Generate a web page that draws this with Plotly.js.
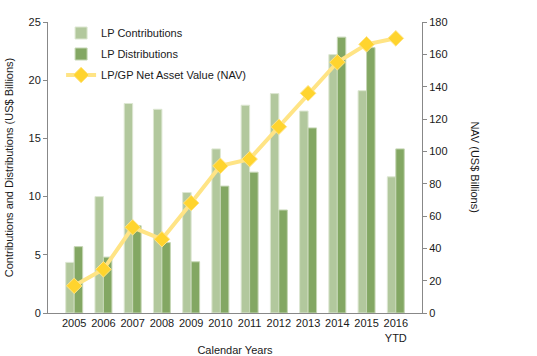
<!DOCTYPE html>
<html>
<head>
<meta charset="utf-8">
<script src="https://cdn.plot.ly/plotly-3.0.1.min.js"></script>
<style>html,body{margin:0;padding:0;background:#fff;}#chart{width:537px;height:356px;}</style>
</head>
<body>
<div id="chart"></div>
<script>
var years = ["2005","2006","2007","2008","2009","2010","2011","2012","2013","2014","2015","2016<br>YTD"];
var contributions = [4.35, 10.0, 18.0, 17.5, 10.35, 14.1, 17.85, 18.85, 17.35, 22.2, 19.1, 11.7];
var distributions = [5.7, 4.8, 7.5, 6.05, 4.4, 10.9, 12.1, 8.85, 15.9, 23.7, 22.8, 14.1];
var nav = [16.8, 27.0, 53.0, 45.6, 68.0, 91.0, 95.2, 115.2, 135.9, 155.1, 166.2, 169.9];

var font = {family: "Liberation Sans, Arial, sans-serif", size: 11, color: "#1a1a1a"};

var traces = [
  {type: "bar", name: "LP Contributions", x: years, y: contributions, legendgroup: "a",
   marker: {color: "#b2c89d", line: {color: "#dde7d2", width: 1}}, yaxis: "y"},
  {type: "bar", name: "LP Distributions", x: years, y: distributions, legendgroup: "b",
   marker: {color: "#83a763", line: {color: "#c5d6b4", width: 1}}, yaxis: "y"},
  {type: "scatter", mode: "lines+markers", name: "LP/GP Net Asset Value (NAV)", x: years, y: nav,
   legendgroup: "c", yaxis: "y2", line: {color: "#ffe485", width: 4},
   marker: {symbol: "diamond", size: 12, color: "#ffd42e", line: {color: "#ffe485", width: 1}}}
];

var layout = {
  width: 537, height: 356,
  margin: {l: 48, r: 115, t: 22, b: 43},
  paper_bgcolor: "#fff", plot_bgcolor: "#fff",
  font: font,
  barmode: "group", bargap: 0.42, bargroupgap: 0,
  showlegend: true,
  legend: {x: 0.035, y: 1.012, xanchor: "left", yanchor: "top", bgcolor: "rgba(0,0,0,0)",
           font: font, itemwidth: 30, traceorder: "grouped", tracegroupgap: 2},
  xaxis: {type: "category", showline: true, linecolor: "#888", linewidth: 1, ticks: "",
          showgrid: false, zeroline: false, tickfont: font,
          title: {text: "Calendar Years", font: font, standoff: 4}},
  yaxis: {range: [0, 25], dtick: 5, showline: true, linecolor: "#888", linewidth: 1,
          ticks: "outside", ticklen: 4, tickcolor: "#888", showgrid: false, zeroline: false,
          tickfont: font,
          title: {text: "Contributions and Distributions (US$ Billions)", font: font, standoff: 12}},
  yaxis2: {range: [0, 180], dtick: 20, overlaying: "y", side: "right", showline: true,
           linecolor: "#888", linewidth: 1, ticks: "outside", ticklen: 4, tickcolor: "#888",
           showgrid: false, zeroline: false, tickfont: font},
  annotations: [
    {text: "NAV (US$ Billions)", xref: "paper", yref: "paper", x: 1.142, y: 0.5,
     textangle: 90, showarrow: false, font: font, xanchor: "center", yanchor: "middle"}
  ]
};

Plotly.newPlot("chart", traces, layout, {displayModeBar: false, staticPlot: true});
</script>
</body>
</html>
